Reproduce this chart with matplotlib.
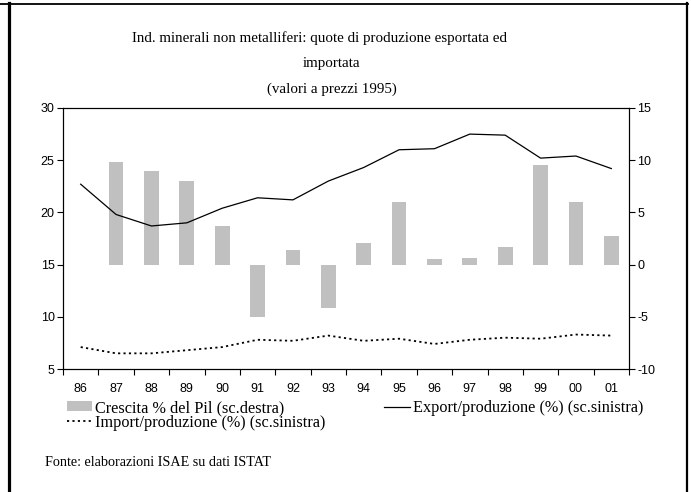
import numpy as np
import matplotlib
matplotlib.use("Agg")
import matplotlib.pyplot as plt
from matplotlib.lines import Line2D

plt.rcParams["axes.unicode_minus"] = False

# anni (etichette asse x)
years = ["86", "87", "88", "89", "90", "91", "92", "93",
         "94", "95", "96", "97", "98", "99", "00", "01"]

# crescita % del Pil (scala destra) - nessun valore per l'86
pil = [np.nan, 9.8, 9.0, 8.0, 3.7, -5.0, 1.4, -4.2,
       2.1, 6.0, 0.5, 0.6, 1.7, 9.5, 6.0, 2.7]

# export/produzione (%) (scala sinistra)
export = [22.7, 19.8, 18.7, 19.0, 20.4, 21.4, 21.2, 23.0,
          24.3, 26.0, 26.1, 27.5, 27.4, 25.2, 25.4, 24.2]

# import/produzione (%) (scala sinistra)
imports = [7.1, 6.5, 6.5, 6.8, 7.1, 7.8, 7.7, 8.2,
           7.7, 7.9, 7.4, 7.8, 8.0, 7.9, 8.3, 8.2]

serif = "Liberation Serif"
sans = "Liberation Sans"

fig = plt.figure(figsize=(6.91, 4.92), dpi=100)
ax = fig.add_axes([63/691, 1 - 369/492, 566/691, 261/492])
ax2 = ax.twinx()

x = np.arange(len(years))

# barre sulla scala destra, dietro alle linee
bars = ax2.bar(x, pil, width=0.42, color="#C0C0C0", edgecolor="none")
ax2.set_ylim(-10, 15)
ax2.set_yticks(np.arange(-10, 16, 5))

l_exp, = ax.plot(x, export, color="black", lw=0.9)
l_imp, = ax.plot(x, imports, color="black", lw=1.3, linestyle=(0, (1.2, 1.8)))
ax.set_ylim(5, 30)
ax.set_yticks(np.arange(5, 31, 5))
ax.set_xlim(-0.5, len(years) - 0.5)

ax.set_zorder(ax2.get_zorder() + 1)
ax.patch.set_visible(False)

# tacche ai confini delle categorie, etichette al centro
ax.set_xticks(np.arange(-0.5, len(years), 1.0))
ax.set_xticklabels([])
ax.set_xticks(x, minor=True)
ax.set_xticklabels(years, minor=True)
ax.tick_params(axis="x", which="major", direction="out", length=4, width=0.8)
ax.tick_params(axis="x", which="minor", length=0, pad=10)
ax.tick_params(axis="y", direction="out", length=4, width=0.8, pad=2)
ax2.tick_params(axis="y", direction="out", length=4, width=0.8, pad=2)

for a in (ax, ax2):
    for s in a.spines.values():
        s.set_linewidth(0.8)
    for lab in a.get_xticklabels(which="both") + a.get_yticklabels():
        lab.set_fontfamily(sans)
        lab.set_fontsize(9)

# titolo
fig.text(320/691, 1 - 38/492,
         "Ind. minerali non metalliferi: quote di produzione esportata ed",
         ha="center", va="center", family=serif, fontsize=10.8)
fig.text(332/691, 1 - 64/492, "importata",
         ha="center", va="center", family=serif, fontsize=10.8)
fig.text(332/691, 1 - 89/492, "(valori a prezzi 1995)",
         ha="center", va="center", family=serif, fontsize=10.8)

# legenda
leg = fig.legend([bars, l_imp, l_exp],
                 ["Crescita % del Pil (sc.destra)",
                  "Import/produzione (%) (sc.sinistra)",
                  "Export/produzione (%) (sc.sinistra)"],
                 ncol=2, loc="upper left", bbox_to_anchor=(67/691, 1 - 400/492),
                 frameon=False, prop={"family": serif, "size": 11.7},
                 handlelength=1.55, handleheight=0.6, handletextpad=0.2,
                 columnspacing=3.6, labelspacing=-0.08, borderpad=0,
                 borderaxespad=0)

fig.text(45/691, 1 - 462/492, "Fonte: elaborazioni ISAE su dati ISTAT",
         ha="left", va="center", family=serif, fontsize=10.2)

# cornice esterna
fig.add_artist(Line2D([0, 688/691], [1 - 3.5/492, 1 - 3.5/492],
                      transform=fig.transFigure, color="black", lw=1.3))
fig.add_artist(Line2D([9/691, 9/691], [1 - 3/492, 0],
                      transform=fig.transFigure, color="black", lw=2.3))
fig.add_artist(Line2D([687/691, 687/691], [1 - 3/492, 0],
                      transform=fig.transFigure, color="black", lw=1.6))

fig.savefig("out.png", dpi=100)
